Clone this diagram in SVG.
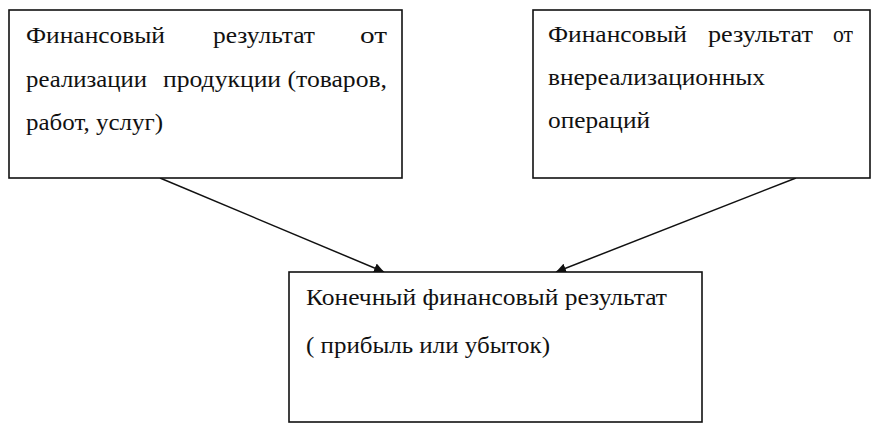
<svg xmlns="http://www.w3.org/2000/svg" width="882" height="434" viewBox="0 0 882 434">
<defs>
<style>
.box{fill:#fff;stroke:#111;stroke-width:1.6}
.c{stroke:#111;stroke-width:1.5;fill:none}
</style>
<marker id="ah" viewBox="0 0 10 10" refX="10" refY="5" markerWidth="10" markerHeight="10" markerUnits="userSpaceOnUse" orient="auto">
<path d="M0,0 L10,5 L0,10 z" fill="#111"/>
</marker>
</defs>
<rect width="882" height="434" fill="#fff"/>
<g id="connectors">
<line class="c" x1="160" y1="178" x2="384" y2="272" marker-end="url(#ah)"/>
<line class="c" x1="796" y1="178" x2="556" y2="272" marker-end="url(#ah)"/>
</g>
<g id="node1">
<rect class="box" x="9" y="10" width="393" height="168"/>
<text x="26" y="43" font-family="Liberation Serif" font-size="24" fill="#111" textLength="139" lengthAdjust="spacingAndGlyphs">Финансовый</text>
<text x="213" y="43" font-family="Liberation Serif" font-size="24" fill="#111" textLength="102" lengthAdjust="spacingAndGlyphs">результат</text>
<text x="360" y="43" font-family="Liberation Serif" font-size="24" fill="#111" textLength="27" lengthAdjust="spacingAndGlyphs">от</text>
<text x="26" y="87" font-family="Liberation Serif" font-size="24" fill="#111" textLength="121" lengthAdjust="spacingAndGlyphs">реализации</text>
<text x="163" y="87" font-family="Liberation Serif" font-size="24" fill="#111" textLength="224" lengthAdjust="spacingAndGlyphs">продукции (товаров,</text>
<text x="26" y="130" font-family="Liberation Serif" font-size="24" fill="#111" textLength="137" lengthAdjust="spacingAndGlyphs">работ, услуг)</text>
</g>
<g id="node2">
<rect class="box" x="533" y="10" width="337" height="168"/>
<text x="548" y="42" font-family="Liberation Serif" font-size="24" fill="#111" textLength="139" lengthAdjust="spacingAndGlyphs">Финансовый</text>
<text x="708" y="42" font-family="Liberation Serif" font-size="24" fill="#111" textLength="105" lengthAdjust="spacingAndGlyphs">результат</text>
<text x="833" y="42" font-family="Liberation Serif" font-size="24" fill="#111" textLength="20" lengthAdjust="spacingAndGlyphs">от</text>
<text x="548" y="85" font-family="Liberation Serif" font-size="24" fill="#111" textLength="217" lengthAdjust="spacingAndGlyphs">внереализационных</text>
<text x="548" y="128" font-family="Liberation Serif" font-size="24" fill="#111" textLength="102" lengthAdjust="spacingAndGlyphs">операций</text>
</g>
<g id="node3">
<rect class="box" x="289" y="272" width="413" height="150"/>
<text x="306" y="305" font-family="Liberation Serif" font-size="24" fill="#111" textLength="361" lengthAdjust="spacingAndGlyphs">Конечный финансовый результат</text>
<text x="306" y="353" font-family="Liberation Serif" font-size="24" fill="#111" textLength="244" lengthAdjust="spacingAndGlyphs">( прибыль или убыток)</text>
</g>
</svg>
